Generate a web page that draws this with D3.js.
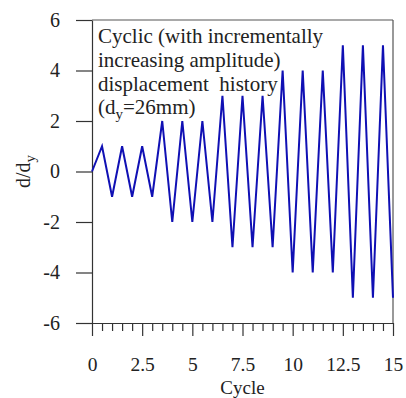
<!DOCTYPE html>
<html>
<head>
<meta charset="utf-8">
<script src="https://cdn.jsdelivr.net/npm/d3@7"></script>
<style>
  body { margin: 0; background: #fff; }
  svg text { font-family: "Liberation Serif", "Times New Roman", serif; fill: #222; white-space: pre; }
</style>
</head>
<body>
<div id="chart-area"></div>
<script>
// data
var cycles = [0, 0.5, 1, 1.5, 2, 2.5, 3, 3.5, 4, 4.5, 5, 5.5, 6, 6.5, 7, 7.5, 8, 8.5, 9,
              9.5, 10, 10.5, 11, 11.5, 12, 12.5, 13, 13.5, 14, 14.5, 15];
var ratio = [0, 1, -1, 1, -1, 1, -1, 2, -2, 2, -2, 2, -2, 3, -3, 3, -3, 3, -3,
             4, -4, 4, -4, 4, -4, 5, -5, 5, -5, 5, -5];
var xTicks = [0, 2.5, 5, 7.5, 10, 12.5, 15];
var xMinor = [0.5, 1, 1.5, 2, 3, 3.5, 4, 4.5, 5.5, 6, 6.5, 7, 8, 8.5, 9, 9.5,
              10.5, 11, 11.5, 12, 13, 13.5, 14, 14.5];
var yTicks = [-6, -4, -2, 0, 2, 4, 6];
var note = ["Cyclic (with incrementally", "increasing amplitude)", "displacement  history"];

var margin = { top: 20, right: 13, bottom: 75, left: 92 };
var width = 406 - margin.left - margin.right;
var height = 398 - margin.top - margin.bottom;

var svg = d3.select("#chart-area")
  .append("svg")
  .attr("width", 406)
  .attr("height", 398);

var g = svg.append("g")
  .attr("transform", "translate(" + margin.left + "," + margin.top + ")");

var x = d3.scaleLinear().domain([0, 15]).range([0, width]);
var y = d3.scaleLinear().domain([-6, 6]).range([height, 0]);

// frame top + right
g.append("line").attr("x1", 0).attr("x2", width).attr("y1", 0).attr("y2", 0)
  .attr("stroke", "#555").attr("stroke-width", 1.2);
g.append("line").attr("x1", width).attr("x2", width).attr("y1", 0).attr("y2", height)
  .attr("stroke", "#555").attr("stroke-width", 1.2);

// minor x ticks
var xMinorAxis = d3.axisBottom(x).tickValues(xMinor).tickSize(8).tickFormat("");
g.append("g").attr("transform", "translate(0," + height + ")").call(xMinorAxis)
  .call(function(a) { a.select(".domain").remove(); });

var xAxis = d3.axisBottom(x).tickValues(xTicks).tickSize(13).tickSizeOuter(0)
  .tickPadding(21).tickFormat(function(d) { return d; });
var xg = g.append("g").attr("transform", "translate(0," + height + ")").call(xAxis);
xg.selectAll("text").attr("font-size", "19.5px");

var yAxis = d3.axisLeft(y).tickValues(yTicks).tickSize(16).tickSizeOuter(0).tickPadding(16)
  .tickFormat(function(d) { return String(d); });
var yg = g.append("g").call(yAxis);
yg.selectAll("text").attr("font-size", "20px");

svg.selectAll(".domain, .tick line").attr("stroke", "#333").attr("stroke-width", 1.2);

// line
var line = d3.line()
  .x(function(d, i) { return x(cycles[i]); })
  .y(function(d) { return y(d); });

g.append("path")
  .datum(ratio)
  .attr("d", line)
  .attr("fill", "none")
  .attr("stroke", "#1010b4")
  .attr("stroke-width", 2);

// note text
var t = g.append("g").attr("transform", "translate(6,0)");
note.forEach(function(s, i) {
  t.append("text").attr("x", 0).attr("y", 23 + i * 24)
    .attr("font-size", "21px").text(s);
});
var last = t.append("text").attr("x", 0).attr("y", 23 + 3 * 23.5).attr("font-size", "21px");
last.append("tspan").text("(d");
last.append("tspan").attr("dy", 5).attr("font-size", "15px").text("y");
last.append("tspan").attr("dy", -5).text("=26mm)");

// axis titles
svg.append("text")
  .attr("x", margin.left + width / 2).attr("y", 394)
  .attr("text-anchor", "middle").attr("font-size", "19px")
  .text("Cycle");

var yt = svg.append("text")
  .attr("transform", "translate(30," + (margin.top + y(0)) + ") rotate(-90)")
  .attr("text-anchor", "middle").attr("font-size", "20px");
yt.append("tspan").text("d/d");
yt.append("tspan").attr("dy", 5).attr("font-size", "15px").text("y");
</script>
</body>
</html>
